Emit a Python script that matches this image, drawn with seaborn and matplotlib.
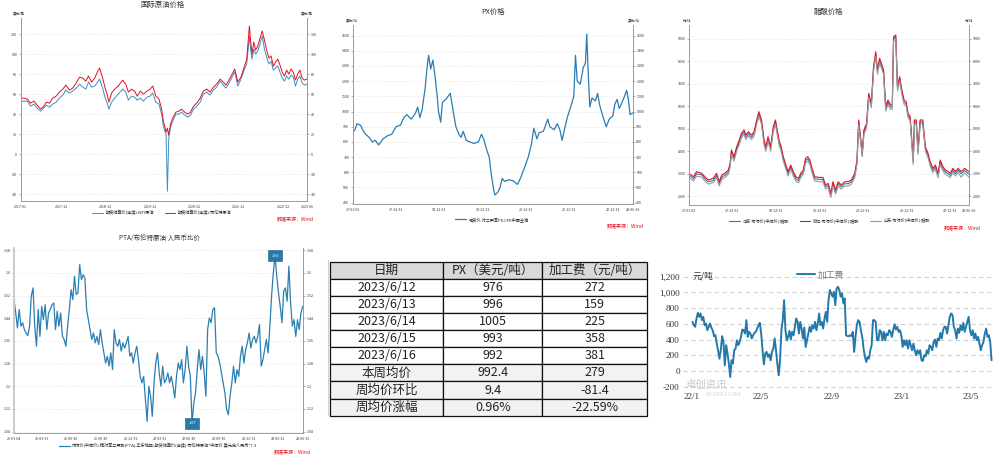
import numpy as np
import pandas as pd
import matplotlib
matplotlib.use("Agg")
import matplotlib.pyplot as plt
from matplotlib.ticker import MultipleLocator
from matplotlib.lines import Line2D
import seaborn as sns

# ---------------- data ----------------
# 国际原油价格 (美元/桶), x in fractional years
oil_year = [
    2017.00, 2017.08, 2017.15, 2017.22, 2017.30, 2017.37, 2017.45, 2017.52, 2017.58, 2017.65,
    2017.72, 2017.80, 2017.87, 2017.95, 2018.02, 2018.10, 2018.17, 2018.25, 2018.33, 2018.40,
    2018.47, 2018.53, 2018.60, 2018.67, 2018.75, 2018.78, 2018.85, 2018.90, 2018.95, 2018.99,
    2019.05, 2019.12, 2019.20, 2019.30, 2019.37, 2019.43, 2019.50, 2019.57, 2019.63, 2019.70,
    2019.77, 2019.85, 2019.92, 2019.98, 2020.05, 2020.12, 2020.18, 2020.22, 2020.28, 2020.31,
    2020.34, 2020.38, 2020.43, 2020.50, 2020.57, 2020.63, 2020.70, 2020.77, 2020.83, 2020.90,
    2020.97, 2021.05, 2021.12, 2021.20, 2021.27, 2021.35, 2021.42, 2021.50, 2021.57, 2021.63,
    2021.70, 2021.77, 2021.83, 2021.90, 2021.97, 2022.05, 2022.10, 2022.16, 2022.19, 2022.22,
    2022.26, 2022.30, 2022.35, 2022.40, 2022.45, 2022.50, 2022.55, 2022.60, 2022.65, 2022.70,
    2022.75, 2022.80, 2022.85, 2022.90, 2022.95, 2023.00, 2023.05, 2023.10, 2023.15, 2023.20,
    2023.25, 2023.30, 2023.35, 2023.40, 2023.46]
brent = [
    56, 56, 55, 51, 53, 49, 45, 48, 52, 51,
    56, 58, 62, 65, 69, 64, 66, 71, 77, 76,
    73, 78, 72, 76, 84, 86, 76, 67, 60, 52,
    61, 65, 68, 74, 70, 62, 65, 63, 58, 63,
    60, 63, 65, 68, 58, 55, 45, 33, 22, 26,
    19, 30, 36, 42, 43, 45, 42, 40, 42, 48,
    51, 56, 63, 65, 62, 67, 70, 75, 72, 69,
    74, 80, 85, 72, 77, 88, 95, 128, 112, 100,
    112, 104, 108, 116, 123, 114, 104, 96, 98, 88,
    92, 95, 89, 82, 78, 84, 80, 85, 82, 74,
    80, 84, 76, 74, 75]
wti = [
    53, 53, 53, 48, 50, 46, 43, 46, 49, 47,
    50, 52, 56, 59, 64, 61, 63, 66, 70, 67,
    65, 72, 67, 68, 73, 75, 66, 57, 51, 45,
    52, 56, 60, 65, 62, 54, 58, 57, 54, 56,
    53, 57, 58, 61, 52, 50, 40, 28, 20, -37,
    15, 27, 33, 40, 40, 42, 39, 37, 39, 45,
    48, 52, 60, 62, 59, 64, 67, 73, 69, 66,
    71, 77, 82, 68, 75, 85, 90, 118, 104, 95,
    105, 100, 103, 110, 118, 105, 97, 90, 93, 84,
    86, 88, 82, 76, 73, 78, 75, 79, 77, 68,
    75, 78, 71, 69, 70]
oil_ticks = [2017.0, 2017.92, 2018.92, 2019.92, 2020.92, 2021.92, 2022.92, 2023.46]
oil_labels = ["2017-01", "2017-12", "2018-12", "2019-12", "2020-12", "2021-12", "2022-12", "2023-06"]

# PX价格 (美元/吨)
px_year = [
    2017.00, 2017.05, 2017.10, 2017.18, 2017.25, 2017.30, 2017.38, 2017.45, 2017.52, 2017.60,
    2017.70, 2017.80, 2017.90, 2018.00, 2018.10, 2018.18, 2018.25, 2018.35, 2018.45, 2018.50,
    2018.55, 2018.60, 2018.67, 2018.72, 2018.75, 2018.80, 2018.85, 2018.90, 2018.95, 2018.98,
    2019.03, 2019.07, 2019.15, 2019.25, 2019.32, 2019.38, 2019.45, 2019.50, 2019.55, 2019.62,
    2019.70, 2019.80, 2019.90, 2019.97, 2020.02, 2020.10, 2020.15, 2020.20, 2020.25, 2020.28,
    2020.35, 2020.40, 2020.45, 2020.50, 2020.60, 2020.70, 2020.80, 2020.87, 2020.95, 2021.05,
    2021.12, 2021.18, 2021.25, 2021.30, 2021.40, 2021.50, 2021.55, 2021.65, 2021.72, 2021.78,
    2021.83, 2021.90, 2021.95, 2022.05, 2022.10, 2022.14, 2022.18, 2022.25, 2022.32, 2022.37,
    2022.40, 2022.43, 2022.47, 2022.52, 2022.60, 2022.65, 2022.70, 2022.78, 2022.85, 2022.92,
    2023.00, 2023.05, 2023.10, 2023.15, 2023.20, 2023.27, 2023.32, 2023.36, 2023.40, 2023.46]
px_price = [
    860, 880, 920, 910, 870, 850, 830, 800, 810, 780,
    820, 840, 850, 900, 910, 960, 980, 950, 990, 1030,
    960, 1010, 1150, 1300, 1370, 1280, 1340, 1230, 1100, 1000,
    930, 1060, 1080, 1120, 1000, 900, 850, 830, 870, 810,
    800, 790, 800, 850, 820, 740, 700, 580, 490, 450,
    470, 500, 560, 540, 550, 545, 520, 560, 620, 700,
    780, 890, 820, 860, 870, 950, 900, 880, 920, 880,
    810, 900, 960, 1050, 1100, 1370, 1200, 1180, 1290, 1320,
    1510, 1280, 1030, 1090, 1070, 1120, 1040, 960, 900, 950,
    970, 1050, 1080, 1020, 1050, 1100, 1140, 1080, 980, 990]
cn_ticks = [2017.0, 2018.0, 2019.0, 2020.0, 2021.0, 2022.0, 2023.0, 2023.46]
px_labels = ["17-01-03", "17-12-31", "18-12-31", "19-12-31", "20-12-31", "21-12-31", "22-12-31", "23-06-16"]

# 醋酸价格 (元/吨)
acid_year = [
    2017.00, 2017.11, 2017.18, 2017.30, 2017.37, 2017.45, 2017.56, 2017.64, 2017.70, 2017.76,
    2017.83, 2017.91, 2017.95, 2017.98, 2018.04, 2018.10, 2018.16, 2018.21, 2018.27, 2018.31,
    2018.37, 2018.44, 2018.50, 2018.56, 2018.61, 2018.67, 2018.73, 2018.77, 2018.82, 2018.88,
    2018.94, 2018.99, 2019.03, 2019.08, 2019.11, 2019.17, 2019.23, 2019.28, 2019.34, 2019.40,
    2019.46, 2019.52, 2019.57, 2019.63, 2019.68, 2019.73, 2019.78, 2019.83, 2019.89, 2019.99,
    2020.08, 2020.14, 2020.20, 2020.26, 2020.31, 2020.37, 2020.43, 2020.50, 2020.58, 2020.66,
    2020.73, 2020.81, 2020.86, 2020.90, 2020.95, 2020.98, 2021.02, 2021.08, 2021.13, 2021.19,
    2021.24, 2021.29, 2021.33, 2021.38, 2021.42, 2021.47, 2021.52, 2021.57, 2021.63, 2021.67,
    2021.70, 2021.75, 2021.79, 2021.84, 2021.89, 2021.94, 2021.99, 2022.03, 2022.08, 2022.15,
    2022.18, 2022.22, 2022.26, 2022.31, 2022.37, 2022.43, 2022.49, 2022.54, 2022.60, 2022.66,
    2022.72, 2022.77, 2022.83, 2022.89, 2022.95, 2023.00, 2023.06, 2023.12, 2023.18, 2023.25,
    2023.33, 2023.43]
acid_zhejiang = [
    3020, 2870, 3095, 3020, 2870, 2725, 2800, 3020, 2650, 2950,
    3020, 3170, 3465, 4060, 3760, 4200, 4500, 4800, 4950, 4720,
    4870, 4720, 4870, 5390, 5760, 5390, 4500, 4200, 4650, 4200,
    5090, 5390, 4950, 4430, 4280, 3760, 3390, 3095, 3390, 3095,
    2870, 2800, 3020, 3170, 3680, 3760, 3610, 3240, 2870, 2840,
    2840, 2500, 2575, 2130, 2650, 2280, 2650, 2500, 2650, 2650,
    2725, 3020, 3610, 5390, 4500, 3910, 4950, 5240, 6570, 6130,
    7750, 8420, 7610, 8130, 7900, 7610, 5980, 6280, 6060, 6060,
    9090, 9160, 6870, 7310, 6720, 6280, 6200, 5690, 5540, 3610,
    5390, 5390, 4060, 5390, 5390, 4200, 3910, 3540, 3240, 3390,
    3020, 3610, 3320, 3170, 3095, 3020, 3240, 3095, 3240, 3095,
    3240, 3095]
acid_jiangsu = [
    2950, 2780, 3000, 2950, 2780, 2640, 2700, 2930, 2560, 2860,
    2930, 3080, 3380, 3960, 3660, 4100, 4400, 4700, 4850, 4620,
    4780, 4620, 4780, 5300, 5650, 5300, 4380, 4100, 4550, 4100,
    4980, 5300, 4850, 4330, 4180, 3660, 3300, 3000, 3300, 3000,
    2780, 2700, 2930, 3080, 3580, 3660, 3520, 3150, 2780, 2750,
    2750, 2420, 2480, 2020, 2560, 2190, 2560, 2420, 2560, 2560,
    2640, 2930, 3520, 5280, 4400, 3780, 4850, 5140, 6480, 6030,
    7650, 8320, 7520, 8030, 7800, 7520, 5880, 6180, 5960, 5960,
    9000, 9080, 6780, 7220, 6620, 6180, 6100, 5600, 5450, 3520,
    5300, 5300, 3960, 5300, 5300, 4100, 3820, 3450, 3150, 3300,
    2930, 3520, 3230, 3080, 3000, 2930, 3150, 3000, 3150, 3000,
    3150, 2980]
acid_shandong = [
    2850, 2680, 2900, 2850, 2680, 2540, 2600, 2830, 2460, 2760,
    2830, 2980, 3280, 3860, 3560, 4000, 4300, 4600, 4750, 4520,
    4680, 4520, 4680, 5200, 5550, 5200, 4280, 4000, 4450, 4000,
    4880, 5200, 4750, 4230, 4080, 3560, 3200, 2900, 3200, 2900,
    2680, 2600, 2830, 2980, 3480, 3560, 3420, 3050, 2680, 2650,
    2650, 2320, 2380, 1950, 2460, 2100, 2460, 2320, 2460, 2460,
    2540, 2830, 3420, 5180, 4300, 3850, 4750, 5040, 6380, 5930,
    7550, 8220, 7420, 7930, 7700, 7420, 5780, 6080, 5860, 5860,
    8900, 8980, 6680, 7120, 6520, 6080, 6000, 5500, 5350, 3420,
    5200, 5200, 3860, 5200, 5200, 4000, 3720, 3350, 3050, 3200,
    2830, 3420, 3130, 2980, 2900, 2830, 3050, 2900, 3050, 2850,
    3050, 2850]
acid_labels = ["17-01-02", "17-12-31", "18-12-31", "19-12-31", "20-12-31", "21-12-31", "22-12-31", "23-06-16"]

# PTA/布伦特原油 人民币比价 (2021-01-04 .. 2023-06-16)
pta_ratio = [
    1.506, 1.459, 1.406, 1.471, 1.412, 1.424, 1.400, 1.388, 1.379, 1.412,
    1.518, 1.547, 1.412, 1.341, 1.471, 1.376, 1.482, 1.435, 1.488, 1.400,
    1.459, 1.471, 1.488, 1.494, 1.400, 1.465, 1.412, 1.459, 1.376, 1.365,
    1.341, 1.412, 1.471, 1.541, 1.506, 1.588, 1.524, 1.530, 1.629, 1.576,
    1.594, 1.582, 1.471, 1.435, 1.400, 1.365, 1.388, 1.353, 1.376, 1.347,
    1.400, 1.353, 1.318, 1.282, 1.306, 1.271, 1.318, 1.259, 1.400, 1.353,
    1.341, 1.365, 1.324, 1.353, 1.335, 1.353, 1.376, 1.306, 1.318, 1.282,
    1.318, 1.341, 1.294, 1.235, 1.212, 1.235, 1.153, 1.076, 1.200, 1.165,
    1.094, 1.212, 1.282, 1.318, 1.247, 1.200, 1.271, 1.212, 1.224, 1.247,
    1.212, 1.235, 1.200, 1.159, 1.235, 1.282, 1.259, 1.294, 1.212, 1.259,
    1.341, 1.271, 1.235, 1.070, 1.141, 1.176, 1.259, 1.329, 1.259, 1.306,
    1.247, 1.165, 1.400, 1.441, 1.424, 1.471, 1.477, 1.318, 1.306, 1.282,
    1.247, 1.212, 1.176, 1.118, 1.100, 1.165, 1.212, 1.271, 1.212, 1.259,
    1.235, 1.306, 1.341, 1.282, 1.329, 1.353, 1.388, 1.335, 1.365, 1.376,
    1.353, 1.376, 1.418, 1.271, 1.294, 1.329, 1.365, 1.318, 1.412, 1.518,
    1.600, 1.660, 1.588, 1.530, 1.482, 1.424, 1.535, 1.547, 1.500, 1.624,
    1.494, 1.412, 1.435, 1.376, 1.435, 1.400, 1.459, 1.482]
pta_tick_dates = ["2021-01-04", "2021-03-31", "2021-06-30", "2021-09-30", "2021-12-31", "2022-03-31",
                  "2022-06-30", "2022-09-30", "2022-12-31", "2023-03-31", "2023-06-16"]
pta_tick_labels = ["21-01-04", "21-03-31", "21-06-30", "21-09-30", "21-12-31", "22-03-31",
                   "22-06-30", "22-09-30", "22-12-31", "23-03-31", "23-06-16"]

# 表格
table_header = ["日期", "PX（美元/吨）", "加工费（元/吨）"]
table_dates = ["2023/6/12", "2023/6/13", "2023/6/14", "2023/6/15", "2023/6/16",
               "本周均价", "周均价环比", "周均价涨幅"]
table_px = ["976", "996", "1005", "993", "992", "992.4", "9.4", "0.96%"]
table_fee = ["272", "159", "225", "358", "381", "279", "-81.4", "-22.59%"]

# 加工费 (元/吨), 2022-01 .. 2023-06
fee = [
    625, 583, 562, 668, 740, 689, 732, 647, 689, 583,
    604, 519, 562, 604, 553, 519, 443, 455, 349, 264,
    157, 264, 443, 370, 72, 328, 221, 94, -77, 136,
    94, 264, 285, 391, 328, 370, 434, 528, 519, 477,
    647, 434, 498, 477, 413, 455, 485, 498, 540, 583,
    613, 477, 264, 85, 221, 243, 179, 213, 136, 243,
    285, 413, 264, 94, -55, 136, 519, 647, 902, 519,
    391, 434, 511, 400, 498, 455, 562, 668, 625, 477,
    625, 540, 413, 553, 306, 391, 477, 562, 498, 583,
    540, 625, 519, 604, 732, 583, 625, 540, 668, 753,
    625, 902, 1030, 987, 945, 1009, 838, 1051, 1072, 1030,
    945, 987, 860, 923, 455, 443, 443, 455, 443, 498,
    243, 434, 583, 647, 625, 519, 434, 285, 179, 115,
    179, 157, 264, 328, 647, 647, 625, 391, 391, 519,
    498, 391, 498, 391, 477, 455, 519, 498, 434, 519,
    596, 528, 562, 498, 519, 455, 306, 391, 328, 391,
    285, 391, 328, 264, 349, 264, 200, 264, 221, 264,
    136, 128, 200, 187, 264, 221, 328, 306, 264, 370,
    400, 306, 413, 391, 485, 413, 519, 562, 562, 477,
    583, 689, 732, 711, 562, 519, 413, 540, 485, 583,
    519, 613, 498, 562, 625, 689, 519, 455, 519, 413,
    477, 391, 434, 349, 264, 328, 370, 477, 540, 434,
    455, 370, 136]
fee_tick_dates = ["2022-01-01", "2022-05-01", "2022-09-01", "2023-01-01", "2023-05-01"]
fee_tick_labels = ["22/1", "22/5", "22/9", "23/1", "23/5"]

# ---------------- style ----------------
sns.set_style("white")
plt.rcParams["font.family"] = ["Noto Sans CJK SC", "DejaVu Sans"]
plt.rcParams["axes.unicode_minus"] = False

W, H = 995, 468
fig = plt.figure(figsize=(W / 100, H / 100), dpi=100)


def box(x0, y0, x1, y1):
    # pixel box -> figure fraction rect
    return [x0 / W, 1 - y1 / H, (x1 - x0) / W, (y1 - y0) / H]


def ftext(x, y, s, **kw):
    fig.text(x / W, 1 - y / H, s, **kw)


def wind_axes(rect, xlim, ylim, yticks, xticks, xlabels, fmt="{:g}"):
    ax = fig.add_axes(rect)
    ax.set_xlim(xlim)
    ax.set_ylim(ylim)
    for v in yticks:
        ax.axhline(v, color="#e4e4e4", lw=0.4, ls=(0, (3, 2)), zorder=0)
    ax.set_yticks(yticks)
    ax.set_yticklabels([fmt.format(v) for v in yticks])
    ax.set_xticks(xticks)
    ax.set_xticklabels(xlabels)
    ax.spines["top"].set_visible(False)
    for s in ["left", "right", "bottom"]:
        ax.spines[s].set_color("#9a9a9a")
        ax.spines[s].set_linewidth(0.7)
    ax.tick_params(labelsize=2.6, length=1.6, width=0.4, color="#777777",
                   pad=1, labelcolor="#333333")
    ax.tick_params(axis="x", which="minor", length=1.0, width=0.3, color="#777777")
    ax2 = ax.twinx()
    ax2.set_ylim(ylim)
    ax2.set_yticks(yticks)
    ax2.set_yticklabels([fmt.format(v) for v in yticks])
    for s in ax2.spines.values():
        s.set_visible(False)
    ax2.tick_params(labelsize=2.6, length=1.6, width=0.4, color="#777777",
                    pad=1, labelcolor="#333333")
    ax.set_xlabel("")
    ax.set_ylabel("")
    return ax


def wind_legend(ax, cx, cy, ncol):
    ax.legend(loc="center", bbox_to_anchor=(cx / W, 1 - cy / H),
              bbox_transform=fig.transFigure, ncol=ncol, frameon=False,
              fontsize=3.0, handlelength=2.6, columnspacing=2.5,
              handletextpad=0.6, borderpad=0)


SRC = "数据来源：Wind"
RED = "#e3111f"
BLUE = "#2a7db3"

# ---------- panel 1: 国际原油价格 ----------
ax1 = wind_axes(box(20.7, 18, 307, 201), (2017.0, 2023.46), (-46.7, 136),
                list(range(-40, 121, 20)), oil_ticks, oil_labels)
ax1.xaxis.set_minor_locator(MultipleLocator(0.25))
sns.lineplot(x=oil_year, y=wti, ax=ax1, color="#3d8fc0", lw=0.7,
             estimator=None, sort=False, label="期货结算价(连续):WTI原油")
sns.lineplot(x=oil_year, y=brent, ax=ax1, color=RED, lw=0.7,
             estimator=None, sort=False, label="期货结算价(连续):布伦特原油")
ax1.set_xlabel("")
ax1.set_ylabel("")
wind_legend(ax1, 162, 212.5, 2)
ftext(163, 5, "国际原油价格", ha="center", va="center", fontsize=5.3, color="#333333")
ftext(12.7, 13.3, "美元/桶", ha="left", va="center", fontsize=2.5, color="#333333")
ftext(313, 13.3, "美元/桶", ha="right", va="center", fontsize=2.5, color="#333333")
ftext(314, 219, SRC, ha="right", va="center", fontsize=3.6, color=RED)

# ---------- panel 2: PX价格 ----------
ax2 = wind_axes(box(352.7, 25, 632.7, 204), (2017.0, 2023.46), (391, 1570),
                list(range(400, 1501, 100)), cn_ticks, px_labels)
ax2.xaxis.set_minor_locator(MultipleLocator(0.25))
sns.lineplot(x=px_year, y=px_price, ax=ax2, color=BLUE, lw=0.9,
             estimator=None, sort=False, label="现货价:对二甲苯PX:CFR中国主港")
ax2.set_xlabel("")
ax2.set_ylabel("")
wind_legend(ax2, 492, 219.5, 1)
ftext(493, 12, "PX价格", ha="center", va="center", fontsize=5.3, color="#333333")
ftext(346, 20.7, "美元/吨", ha="left", va="center", fontsize=2.5, color="#333333")
ftext(640, 20.7, "美元/吨", ha="right", va="center", fontsize=2.5, color="#333333")
ftext(644, 226, SRC, ha="right", va="center", fontsize=3.6, color=RED)

# ---------- panel 3: 醋酸价格 ----------
ax3 = wind_axes(box(688.7, 25, 969, 205), (2017.0, 2023.43), (1615, 9607),
                list(range(2000, 9001, 1000)), cn_ticks[:-1] + [2023.43], acid_labels)
ax3.xaxis.set_minor_locator(MultipleLocator(0.25))
sns.lineplot(x=acid_year, y=acid_jiangsu, ax=ax3, color=BLUE, lw=0.8,
             estimator=None, sort=False, label="江苏:市场价(中间价):醋酸")
sns.lineplot(x=acid_year, y=acid_zhejiang, ax=ax3, color=RED, lw=0.8,
             estimator=None, sort=False, label="浙江:市场价(中间价):醋酸")
sns.lineplot(x=acid_year, y=acid_shandong, ax=ax3, color="#9b9b9b", lw=0.8,
             estimator=None, sort=False, label="山东:市场价(中间价):醋酸")
ax3.set_xlabel("")
ax3.set_ylabel("")
wind_legend(ax3, 829.5, 220.5, 3)
ftext(828, 12, "醋酸价格", ha="center", va="center", fontsize=5.3, color="#333333")
ftext(683.3, 20.7, "元/吨", ha="left", va="center", fontsize=2.5, color="#333333")
ftext(973, 20.7, "元/吨", ha="right", va="center", fontsize=2.5, color="#333333")
ftext(981, 227.5, SRC, ha="right", va="center", fontsize=3.6, color=RED)

# ---------- panel 4: PTA/布伦特原油 人民币比价 ----------
pta_dates = pd.date_range("2021-01-04", "2023-06-16", periods=len(pta_ratio))
ax4 = wind_axes(box(14, 248, 302.7, 433),
                (pd.Timestamp("2021-01-04"), pd.Timestamp("2023-06-16")),
                (1.035, 1.688), [1.04, 1.12, 1.2, 1.28, 1.36, 1.44, 1.52, 1.6, 1.68],
                pd.to_datetime(pta_tick_dates), pta_tick_labels)
ax4.spines["left"].set_linewidth(1.3)
ax4.spines["left"].set_color("#c8c8c8")
sns.lineplot(x=pta_dates, y=pta_ratio, ax=ax4, color="#2a7fb2", lw=0.9,
             estimator=None, sort=False,
             label="市场价(中间价):精对苯二甲酸(PTA):华东地区/期货结算价(连续):布伦特原油*中间价:美元兑人民币*7.3")
ax4.set_xlabel("")
ax4.set_ylabel("")
i_max = int(np.argmax(pta_ratio))
i_min = int(np.argmin(pta_ratio))
for i in (i_max, i_min):
    ax4.annotate(f"{pta_ratio[i]:.2f}", (pta_dates[i], pta_ratio[i]), ha="center", va="center",
                 fontsize=2.8, color="white", zorder=5,
                 bbox=dict(boxstyle="square,pad=0.9", fc="#2a78a8", ec="#1d5f86", lw=0.4))
wind_legend(ax4, 158, 446, 1)
ftext(160, 238, "PTA/布伦特原油 人民币比价", ha="center", va="center", fontsize=4.7, color="#333333")
ftext(311, 452, SRC, ha="right", va="center", fontsize=3.6, color=RED)
fig.add_artist(Line2D([328 / W, 328 / W], [1 - 260 / H, 1 - 415 / H],
                      transform=fig.transFigure, color="#d0d0d0", lw=0.8))

# ---------- panel 5: 表格 ----------
tax = fig.add_axes(box(330, 261.7, 647, 415.7))
tax.axis("off")
cells = [[d, p, f] for d, p, f in zip(table_dates, table_px, table_fee)]
colours = [["white"] * 3] * 5 + [["#f2f2f2"] * 3] * 3
tbl = tax.table(cellText=cells, colLabels=table_header, cellColours=colours,
                colColours=["#d9d9d9"] * 3, colWidths=[0.357, 0.313, 0.330],
                cellLoc="center", bbox=[0, 0, 1, 1])
tbl.auto_set_font_size(False)
for (r, c), cell in tbl.get_celld().items():
    cell.set_edgecolor("#111111")
    cell.set_linewidth(0.9)
    cell.get_text().set_fontsize(9)
    cell.get_text().set_color("#222222")

# ---------- panel 6: 加工费 ----------
fax = fig.add_axes(box(683.3, 265, 995, 390))
fee_dates = pd.date_range("2022-01-02", "2023-06-07", periods=len(fee))
fee_ticks = list(range(-200, 1201, 200))
for v in fee_ticks:
    fax.axhline(v, color="#cfcfcf", lw=0.8, ls=(0, (4, 3)), zorder=0)
sns.lineplot(x=fee_dates, y=fee, ax=fax, color="#2379aa", lw=1.4,
             estimator=None, sort=False, label="加工费")
fax.set_xlim(pd.Timestamp("2021-12-17"), pd.Timestamp("2023-06-13"))
fax.set_ylim(-242, 1349)
fax.set_yticks(fee_ticks)
fax.set_yticklabels([f"{v:,}" for v in fee_ticks])
fax.set_xticks(pd.to_datetime(fee_tick_dates))
fax.set_xticklabels(fee_tick_labels)
for s in fax.spines.values():
    s.set_visible(False)
fax.tick_params(length=0, labelsize=6.6, labelcolor="#333333", pad=2.5)
for lbl in fax.get_xticklabels() + fax.get_yticklabels():
    lbl.set_fontfamily("Liberation Serif")
fax.set_xlabel("")
fax.set_ylabel("")
fax.legend(loc="center left", bbox_to_anchor=(797 / W, 1 - 275 / H),
           bbox_transform=fig.transFigure, frameon=False, fontsize=6.3,
           handlelength=2.1, handletextpad=0.3, borderpad=0, borderaxespad=0,
           labelcolor="#777777")
ftext(693, 276, "元/吨", ha="left", va="center", fontsize=6.3, color="#333333")
ftext(706, 384.5, "卓创资讯", ha="center", va="center", fontsize=7.5, color="#c9c9c9")
ftext(723, 395, "SCI99.COM", ha="center", va="center", fontsize=5.0,
      color="#d2d2d2", family="Liberation Serif")

fig.savefig("out.png", dpi=100)
plt.close(fig)
